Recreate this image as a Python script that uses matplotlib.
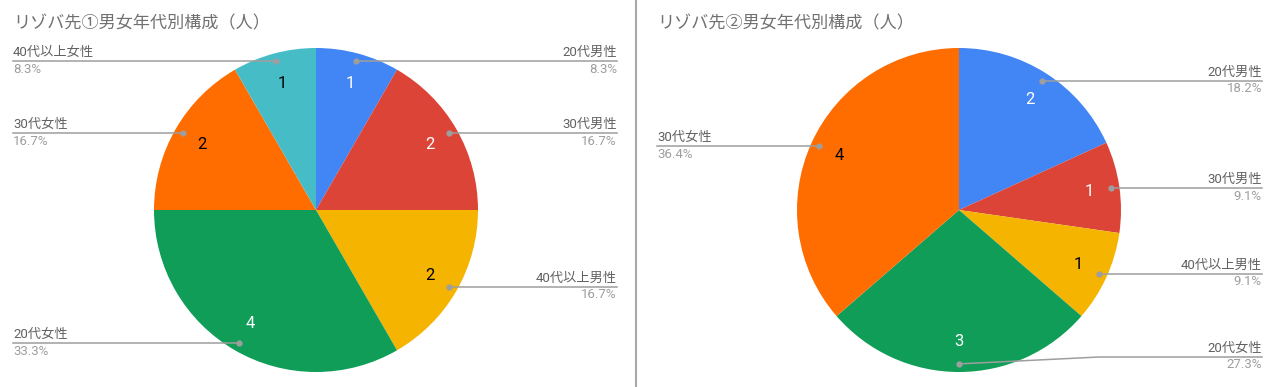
import numpy as np
import matplotlib.pyplot as plt

# データ
categories = ["20代男性", "30代男性", "40代以上男性", "20代女性", "30代女性", "40代以上女性"]
counts_1 = [1, 2, 2, 4, 2, 1]
counts_2 = [2, 1, 1, 3, 4, 0]
titles = ["リゾバ先①男女年代別構成（人）", "リゾバ先②男女年代別構成（人）"]

colors = ["#4285F4", "#DB4437", "#F4B400", "#0F9D58", "#FF6D01", "#46BDC6"]
value_colors = ["white", "white", "black", "white", "black", "black"]

plt.rcParams['font.family'] = ['Roboto', 'Noto Sans CJK JP', 'DejaVu Sans']

W, H = 1280, 387
fig = plt.figure(figsize=(12.8, 3.87), dpi=100)
ax = fig.add_axes([0, 0, 1, 1])

# レイアウト (ピクセル座標、上から)
charts = [
    dict(counts=counts_1, title=titles[0], cx=316, cy=210, r=162, left=13, right=617),
    dict(counts=counts_2, title=titles[1], cx=959, cy=210, r=162, left=657, right=1262),
]
line_col = "#9E9E9E"

for ch in charts:
    vals = [v for v in ch["counts"] if v > 0]
    idx = [i for i, v in enumerate(ch["counts"]) if v > 0]
    total = sum(vals)
    cx, cy, r = ch["cx"], H - ch["cy"], ch["r"]
    wedges, _ = ax.pie(vals, colors=[colors[i] for i in idx], startangle=90,
                       counterclock=False, center=(cx, cy), radius=r,
                       wedgeprops=dict(linewidth=0))
    for w, i, v in zip(wedges, idx, vals):
        mid = np.deg2rad((w.theta1 + w.theta2) / 2)
        # 値ラベル
        tx = cx + 0.81 * r * np.cos(mid)
        ty = cy + 0.81 * r * np.sin(mid)
        ax.text(tx, ty, str(v), ha="center", va="center", fontsize=12,
                color=value_colors[i])
        # 引き出し線
        dx = cx + 0.95 * r * np.cos(mid)
        dy = cy + 0.95 * r * np.sin(mid)
        ly = max(dy, H - 357)
        ax.plot([dx], [dy], "o", color=line_col, markersize=3.5, zorder=5)
        if dx >= cx - 1:
            xs = [dx, ch["right"]]
            ys = [dy, ly]
            if abs(ly - dy) > 0.5:
                xs = [dx, dx + 140, ch["right"]]
                ys = [dy, ly, ly]
            tx, ha = ch["right"], "right"
        else:
            xs = [ch["left"], dx]
            ys = [ly, dy]
            tx, ha = ch["left"], "left"
        ax.plot(xs, ys, color=line_col, lw=1.1, zorder=4)
        ax.text(tx, ly + 2, categories[i], ha=ha, va="bottom", fontsize=9.5,
                color="#616161")
        ax.text(tx, ly - 1.5, f"{v / total * 100:.1f}%", ha=ha, va="top",
                fontsize=9.5, color="#9E9E9E")
    ax.text(ch["left"], H - 23, ch["title"], ha="left", va="center",
            fontsize=12.3, color="#707070")

# 区切り線
ax.plot([636, 636], [0, H], color="#A8A8A8", lw=1.5)

ax.set_xlim(0, W)
ax.set_ylim(0, H)
ax.set_aspect("auto")
ax.axis("off")

fig.savefig("out.png", dpi=100)
